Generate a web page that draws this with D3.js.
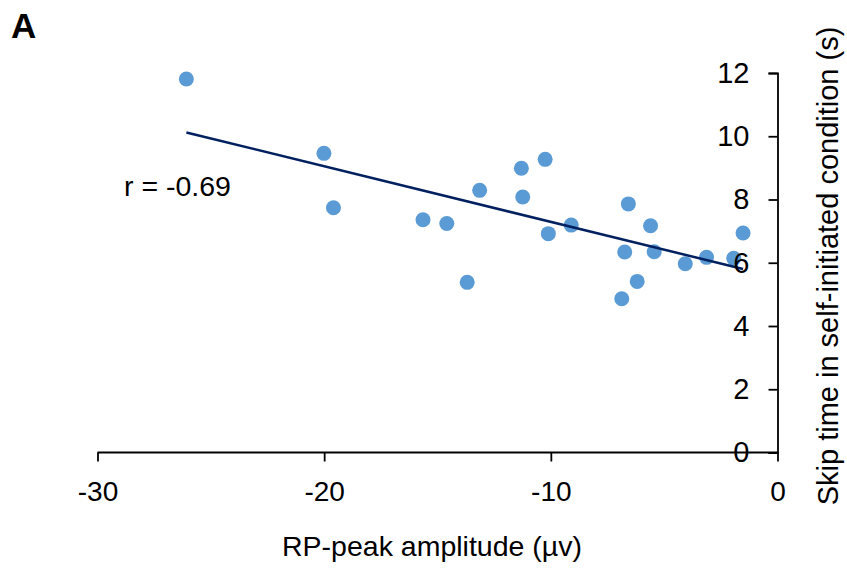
<!DOCTYPE html>
<html>
<head>
<meta charset="utf-8">
<script src="https://cdn.jsdelivr.net/npm/d3@7"></script>
<style>
  body { margin: 0; background: #fff; }
  text { font-family: "Liberation Sans", Arial, sans-serif; }
</style>
</head>
<body>
<script>
const w = 847, h = 570;

// RP-peak amplitude (µV) per participant
const amplitude = [-26.08, -20.01, -19.59, -15.64, -14.59, -13.69, -13.14, -11.30, -11.24, -10.25, -10.11,
    -9.10, -6.58, -6.74, -5.60, -5.44, -6.19, -6.87, -4.07, -3.13, -1.93, -1.52];
// skip time in self-initiated condition (s)
const skipTime = [11.81, 9.46, 7.74, 7.36, 7.24, 5.38, 8.29, 8.99, 8.08, 9.27, 6.92,
    7.19, 7.86, 6.34, 7.17, 6.35, 5.41, 4.86, 5.97, 6.17, 6.14, 6.94];
const xTicks = [-30, -20, -10, 0];
const yTicks = [0, 2, 4, 6, 8, 10, 12];
const rLabel = 'r = -0.69';

const points = amplitude.map((a, i) => ({ x: a, y: skipTime[i] }));

// least squares fit
const mx = d3.mean(amplitude), my = d3.mean(skipTime);
const sxy = d3.sum(points, d => (d.x - mx) * (d.y - my));
const sxx = d3.sum(points, d => (d.x - mx) ** 2);
const slope = sxy / sxx, icept = my - slope * mx;
const [x0, x1] = d3.extent(amplitude);
const fit = [{ x: x0, y: icept + slope * x0 }, { x: x1, y: icept + slope * x1 }];

const x = d3.scaleLinear().domain([-30, 0]).range([97.5, 777.5]);
const y = d3.scaleLinear().domain([0, 12]).range([452.5, 73]);

const svg = d3.select('body').append('svg')
    .attr('width', w)
    .attr('height', h);

svg.append('text')
    .attr('x', 11).attr('y', 38)
    .attr('font-size', 35).attr('font-weight', 'bold')
    .text('A');

svg.append('g').selectAll('circle')
    .data(points)
    .join('circle')
    .attr('cx', d => x(d.x))
    .attr('cy', d => y(d.y))
    .attr('r', 7.5)
    .attr('fill', '#5b9bd5');

svg.append('path')
    .datum(fit)
    .attr('fill', 'none')
    .attr('stroke', '#002060')
    .attr('stroke-width', 2.5)
    .attr('d', d3.line().x(d => x(d.x)).y(d => y(d.y)));

svg.append('text')
    .attr('x', 124).attr('y', 196)
    .attr('font-size', 28.5)
    .text(rLabel);

const xAxis = svg.append('g')
    .attr('transform', `translate(0,${y(0)})`)
    .call(d3.axisBottom(x).tickValues(xTicks).tickFormat(d => String(d))
        .tickSize(9).tickPadding(20));

const yAxis = svg.append('g')
    .attr('transform', `translate(${x(0)},0)`)
    .call(d3.axisLeft(y).tickValues(yTicks).tickFormat(d => String(d))
        .tickSize(9).tickPadding(19));

[xAxis, yAxis].forEach(g => {
    g.selectAll('path, line').attr('stroke', '#000').attr('stroke-width', 1.8);
    g.selectAll('text').attr('fill', '#000')
        .style('font-family', '"Liberation Sans", Arial, sans-serif');
});
xAxis.selectAll('text').attr('font-size', 28);
yAxis.selectAll('text').attr('font-size', 29);
xAxis.select('.domain').remove();
xAxis.append('line')
    .attr('x1', x(-30)).attr('x2', x(0))
    .attr('stroke', '#000').attr('stroke-width', 1.8);

svg.append('text')
    .attr('x', 432).attr('y', 556)
    .attr('text-anchor', 'middle')
    .attr('font-size', 28.5)
    .text('RP-peak amplitude (µv)');

svg.append('text')
    .attr('transform', 'translate(838,266) rotate(-90)')
    .attr('text-anchor', 'middle')
    .attr('font-size', 29)
    .text('Skip time in self-initiated condition (s)');
</script>
</body>
</html>
